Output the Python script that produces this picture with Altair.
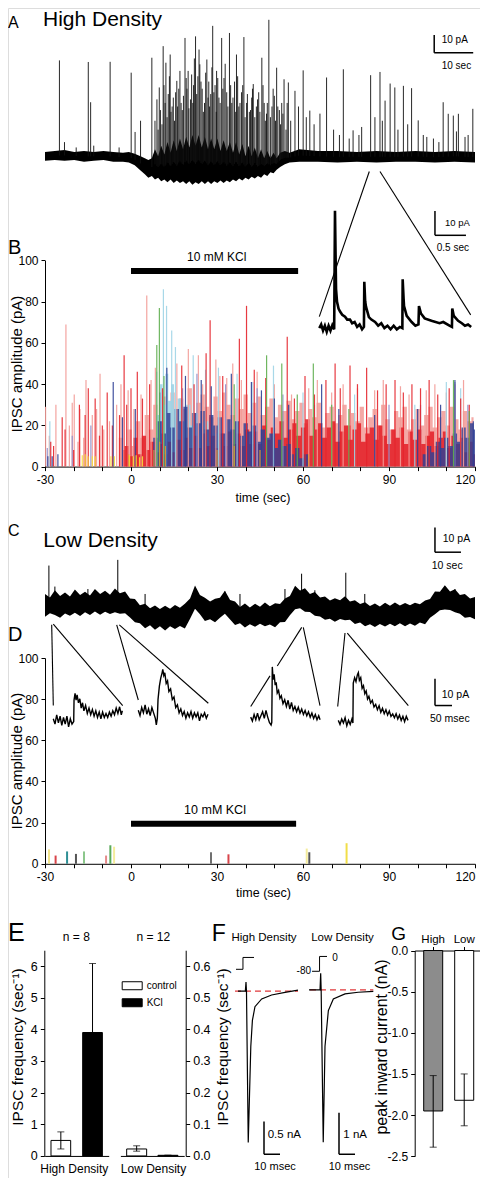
import altair as alt
import numpy as np
import pandas as pd

# ================= values =================
# --- A: high-density trace (time s, current pA): envelope (t, low, high) of the noisy trace
A_ENV = [(0,-2.5,2.5),(2.5,-2,3),(5,-2.5,3.5),(7.5,-2,2.5),(10,-3,3),(12.5,-2.5,2.5),(15,-2,3),
         (17.5,-3,2.5),(20,-3,2),(21.5,-3.5,2.5),(23,-5,1.5),(24.5,-8,0),(25.6,-10,-1),(26.5,-12,-2),
         (27.4,-11,-1),(28.2,-13,4),(29,-12,0),(29.8,-14,6),(30.6,-13,1),(31.4,-14.5,8),(32.2,-13,2),(33,-15,9),
         (33.8,-13.5,3),(34.6,-15,10),(35.4,-14,4),(36.2,-15.5,11),(37,-14,5),(37.8,-16,12),(38.6,-14.5,6),
         (39.4,-15.5,12),(40.2,-14,5),(41,-15.5,11),(41.8,-14,4),(42.6,-15.5,10),(43.4,-14,4),(44.2,-15,10),
         (45,-13.5,3),(45.8,-15,9),(46.6,-13.5,3),(47.4,-14.5,8),(48.2,-13,2),(49,-14,8),(49.8,-12.5,1),
         (50.6,-13.5,7),(51.4,-12,0),(52.2,-13,6),(53,-11.5,0),(53.8,-12.5,5),(54.6,-11,-1),(55.4,-12,4),
         (56.2,-10,-1),(57,-11,3),(57.8,-9,-1),(58.6,-9.5,2),(59.4,-7.5,-1),(60.3,-6,2),(61.5,-4.5,3),
         (62.7,-3.5,2),(65.2,-3,4),(70,-3,3),(75,-3.5,3),(80,-3,2.5),(85,-3.5,3),(90,-3,2.5),(95,-3,3),
         (100,-3.5,2.5),(105,-3,3),(110.26,-3.5,2.5)]
# spikes (time s, peak pA)
A_SPIKES = [(3.7,53.9),(5,8),(8,5),(11.1,53),(11.7,30.4),(12.5,6),(16.7,53.1),(19,5),(22.1,47),(23.1,13.7),
            (24.5,20),(27.4,55.4),(29.3,38.7),(30.3,61.9),(30.8,30),(31,52.6),(31.6,35),(32.1,57.2),(32.6,28),
            (33.8,42.4),(34.3,38),(34.9,30),(35.9,66.5),(36.2,44),(36.7,48),(37.3,32),(38.1,40),(38.6,67.4),
            (39.2,45),(39.7,51.7),(40.3,38),(40.9,30),(41.5,54.4),(42,42),(42.5,35),(43,73.3),(43.6,40),(44,48),
            (44.6,33),(45.3,66.5),(45.9,44),(46.6,36),(47.3,69.3),(47.9,30),(48.6,42),(49.1,57.2),(49.7,28),
            (50.4,36),(51,67),(51.7,30),(52.4,25),(53,33),(53.4,40.6),(54.2,28),(54.8,36),(55.6,55.4),(56.2,30),
            (56.8,24),(57.4,76.7),(58.2,28),(58.8,34),(59.4,49.8),(60.1,26),(60.7,30),(61.3,43.3),(62.4,41.5),
            (63,20),(64.1,36.8),(65,28),(66.2,48.3),(67,22),(67.9,25.7),(69,18),(70.5,24),(72.2,44.3),(74,15),
            (75.5,12),(76.5,48.9),(78,10),(79,14.6),(80.5,12),(81.2,16.5),(83.5,45.6),(84.6,22),(85.9,47.4),
            (86.5,20),(87.2,31.3),(88.5,40.9),(89.7,38.7),(90.5,15),(91.9,39.6),(93,18),(94,38.3),(95.7,20.2),
            (97,12),(97.9,10.9),(99.6,10),(101,8),(102.1,30.4),(103.4,23.9),(104.7,22.9),(105.5,14),(106,23.9),
            (107.7,10.9),(108.5,12),(109.7,26.7)]
# smaller overlapping events in the dense KCl period (time s, peak pA)
A_DENSE = [(28.2,20),(28.7,32),(29,15),(29.6,26),(30,18),(30.5,40),(31.3,22),(31.9,45),(32.3,25),(32.9,33),
           (33.2,20),(33.5,36),(34,28),(34.6,48),(35.2,26),(35.5,34),(36.4,38),(36.9,27),(37.6,46),(37.9,30),
           (38.3,55),(38.9,35),(39.5,60),(40,42),(40.6,25),(41.2,47),(41.8,33),(42.2,28),(42.8,50),(43.3,36),
           (43.9,25),(44.3,44),(44.9,30),(45.6,38),(46.2,52),(46.9,28),(47.6,40),(48.2,33),(48.9,25),(49.4,45),
           (50,30),(50.7,40),(51.3,22),(51.9,35),(52.7,26),(53.2,38),(53.8,22),(54.5,32),(55.1,25),(55.9,40),
           (56.5,20),(57,30),(57.8,22),(58.5,38),(59.1,20),(59.7,28),(60.4,18),(61,24),(61.8,15),(62.1,30)]

# --- B inset: expanded high-density trace (time s, pA)
B_INSET = [(0,0),(0.03,1.5),(0.06,-1),(0.09,1),(0.12,-1.5),(0.15,1),(0.18,-1),(0.21,1.2),(0.24,-0.5),
           (0.253,48),(0.27,16),(0.286,10.8),(0.31,8),(0.335,6.8),(0.37,5.5),(0.415,4.7),(0.45,3.5),(0.495,3.5),
           (0.53,2),(0.57,2.5),(0.61,0.5),(0.65,1.5),(0.69,-0.5),(0.72,0.5),(0.726,19),(0.74,11),(0.753,8.8),
           (0.80,4.5),(0.84,3.5),(0.90,2.5),(0.95,1),(1.0,2),(1.05,0),(1.10,1),(1.15,-0.5),(1.20,1),(1.25,-0.5),
           (1.30,0.5),(1.34,0),(1.345,20),(1.36,12),(1.367,9),(1.41,5),(1.49,2.5),(1.55,1),(1.60,1.5),(1.608,9),
           (1.64,6),(1.70,4),(1.81,3),(1.94,2),(2.0,2.5),(2.1,1),(2.14,0.5),(2.145,8),(2.17,5),(2.24,3),
           (2.30,2),(2.35,1),(2.40,1.5),(2.45,0.5)]

# --- B: IPSC amplitude events (time s, amplitude pA), one list per recording colour
B_PINK = [(-29.8,29),(-28.5,15),(-26.2,30),(-22.7,69),(-21.5,20),(-20.5,31),(-19.8,35),(-18.5,12),(-17.8,28),
          (-16.5,14),(-15.7,42),(-13.5,25),(-12,28),(-10.8,45),(-9.5,18),(-7.5,22),(-5,30),(-3.5,40),(-1,37),
          (1,28),(3.5,35),(5.5,83),(7,42),(8.5,48),(16,50),(20,57),(23.5,54),(25,40),(29.6,52),(31,44),
          (33.4,43),(35.5,50),(38.5,42),(44,46),(50,40),(56,35),(62,38),(65,42),(70,36),(74,40),(79,38),
          (85,37),(88,42),(94,39),(97,35),(103,37),(106,40),(110,36),(113,40),(116,42)]
B_LBLUE = [(-28.3,22),(9,46),(11.3,86),(12.4,78),(14.2,66),(15.5,58),(21.7,54),(26,47),(30.5,48),(37,45),
           (42.5,41),(49.7,49),(60,36),(78,35),(99,30),(110,41),(115,38)]
B_LAV = [(-29.2,9),(-20.5,15),(-14,20),(18,38),(23,45),(33,40),(44,38),(53,35),(64,30),(90,30),(101,30),
         (113,41),(117.5,30)]
B_RED = [(-28,12),(-27,10),(-24,24),(-23,18),(-20,8),(-18,30),(-16,25),(-14.9,38),(-12.5,33),(-11,15),(-10,20),
         (-8.3,36),(-6.5,20),(-4,25),(-2.4,54),(-1.5,30),(0,38),(2.2,46),(4,33),(6.5,40),(11,38),(17.7,49),(22,40),
         (26.2,55),(27.6,71),(32,44),(37.8,62),(40.3,78),(43,47),(47,43),(54.5,63),(57,33),(60.7,44),(64,35),
         (68,42),(71.2,50),(73,38),(76.4,49),(79,40),(82.2,48),(86,37),(89,40),(92.1,42),(95,36),(98,40),
         (101,38),(104,42),(107,35),(111,38),(115,33),(118,30)]
B_NAVY = [(-29,5),(-27.5,5),(-25.5,6),(-6.2,41),(-3,24),(1.5,28),(10,36),(12.5,48),(19,44),(24.5,42),(28,39),
          (35,45),(42,41),(45.5,37),(50,33),(55,30),(66.5,40),(72.5,28),(85,25),(100,28),(108,30),(113,42),
          (119.4,22)]
B_GREEN = [(9,59),(9.9,77),(11.5,44),(36,40),(47.3,54),(52.6,50),(58,35),(63.6,50),(70,30),(76,28),
           (112.5,42),(118,27)]
B_ORANGE = [(-0.8,6),(8,8),(10,12),(12,10),(30,8),(36,10),(45,8),(62,6)]
B_YELLOW = [(-17,5.5),(-16,6),(-15,5),(-13.5,5),(-12.5,5),(-7,5),(-5.8,5),(-0.5,5.5),(0.8,5),(1.8,5.5),
            (3,4.5),(4,5)]
# dense parts of the histogram (time s, upper edge pA)
B_PINK_MASS = [(-5,0),(-3.5,14),(-2,8),(-0.5,18),(1,10),(2.5,22),(4,14),(5.5,25),(7,18),(8.5,30),(10,22),
               (11.5,34),(13,26),(14.5,36),(16,24),(17.5,33),(19,28),(20.5,38),(22,26),(23.5,31),(25,35),
               (26.5,29),(28,24),(29.5,34),(31,27),(32.5,36),(34,30),(35.5,25),(37,33),(38.5,28),(40,35),
               (41.5,26),(43,31),(44.5,34),(46,25),(47.5,29),(49,33),(50.5,24),(52,30),(53.5,27),(55,32),
               (56.5,23),(58,27),(59.5,31),(61,21),(62.5,28),(64,24),(65.5,31),(67,19),(68.5,26),(70,29),
               (71.5,21),(73,25),(74.5,30),(76,20),(77.5,26),(79,22),(80.5,29),(82,19),(83.5,24),(85,28),
               (86.5,20),(88,30),(89.5,23),(91,18),(92.5,27),(94,24),(95.5,29),(97,18),(98.5,23),(100,28),
               (101.5,20),(103,25),(104.5,29),(106,19),(107.5,24),(109,27),(110.5,20),(112,29),(113.5,23),
               (115,18),(116.5,27),(118,22),(119.5,24)]
B_LBLUE_MASS = [(8,0),(9.5,25),(10.5,40),(11.5,30),(12.5,45),(13.5,32),(14.5,40),(15.5,28),(17,33),(18.5,22),
                (20,30),(21.5,20),(23,26),(24.5,16),(26,22),(28,12),(30,16),(32,0)]
B_RED_MASS = [(-3,0),(-1.5,10),(0,5),(1.5,14),(3,6),(4.5,15),(6,8),(7.5,12),(9,7),(10.5,11),(12,6),(13.5,12),
              (15,7),(16.5,13),(18,8),(19.5,14),(21,9),(22.5,15),(24,9),(25.5,16),(27,10),(28.5,15),(30,9),
              (31.5,16),(33,10),(34.5,17),(36,11),(37.5,16),(39,10),(40.5,18),(42,11),(43.5,17),(45,11),
              (46.5,20),(48,13),(49.5,19),(51,16),(52.5,22),(54,14),(55.5,18),(57,21),(58.5,15),(60,19),
              (61.5,23),(63,15),(64.5,18),(66,21),(67.5,14),(69,19),(70.5,22),(72,12),(73.5,17),(75,20),
              (76.5,13),(78,18),(79.5,21),(81,12),(82.5,16),(84,19),(85.5,13),(87,20),(88.5,15),(90,11),
              (91.5,18),(93,14),(94.5,19),(96,11),(97.5,17),(99,13),(100.5,18),(102,11),(103.5,15),(105,17),
              (106.5,10),(108,14),(109.5,17),(111,9),(112.5,15),(114,11),(115.5,14),(117,7),(118.5,12),(120,6)]
B_NAVY_MASS = [(7,0),(8.5,14),(10,22),(11.5,16),(13,26),(14.5,19),(16,28),(17.5,22),(19,29),(20.5,19),(22,26),
               (23.5,21),(25,27),(26.5,18),(28,25),(29.5,20),(31,24),(32.5,16),(34,23),(35.5,18),(37,22),
               (38.5,15),(40,21),(41.5,17),(43,20),(44.5,12),(46,18),(47.5,14),(49,16),(50.5,9),(52,13),
               (53.5,10),(55,11),(56.5,6),(58,9),(59.5,4),(61,6),(62.5,0)]
B_NAVY_MASS2 = [(101,0),(102.5,6),(104,10),(105.5,7),(107,12),(108.5,9),(110,14),(111.5,10),(113,16),
                (114.5,12),(116,19),(117.5,14),(119,21),(120,18)]
KCL_ON, KCL_OFF_B, KCL_OFF_D = 0, 58.3, 57.6
KCL_LEVEL_B, KCL_LEVEL_D = 94.9, 19.4

# --- C: low-density trace (time s) with upper / lower edge of the noise band (pA)
C_T = [0,1.9,3.8,5.8,7.7,9.6,11.5,13.5,15.4,17.3,19.2,21.2,23.1,25,26.9,28.8,30.8,32.7,34.6,36.5,38.5,40.4,
       42.3,44.2,46.2,48.1,50,51.9,53.8,55.8,57.7,59.6,61.5,63.5,65.4,67.3,69.2,71.2,73.1,75,76.9,78.8,80.8,
       82.7,84.6,86.5,88.5,90.4,92.3,94.2,96.2,98.1,100,101.9,103.8,105.8,107.7,109.6,111.5,113.5,115.4,
       117.3,119.2,121.2,123.1,125,126.9,128.8,130.8,132.7,134.6,136.5,138.5,140.4,142.3,144.2,146.2,148.1,
       150,151.9,153.8,155.8,157.7,159.6,161.5,163.5,165.4]
C_HI = [5.0,3.6,6.5,4.2,5.6,4.0,6.8,4.6,5.9,4.4,7.0,5.0,6.3,4.7,7.2,5.3,6.0,3.2,3.0,0.4,1.0,-0.8,0.3,-1.1,
        0.2,-1.0,0.5,-0.6,1.1,3.2,8.4,4.6,3.5,2.0,3.1,3.5,6.3,2.6,2.0,-0.3,1.2,-0.5,1.0,-0.2,1.6,0.0,1.3,0.9,
        3.2,4.2,8.3,6.4,7.3,5.0,5.8,3.6,4.0,2.4,3.3,2.5,4.1,2.0,2.5,0.9,1.7,0.1,1.2,-0.1,1.5,0.2,1.6,0.3,1.4,
        0.4,1.5,0.8,2.4,3.0,6.0,5.9,8.5,6.0,6.9,4.6,5.0,3.2,3.8]
C_LO = [-4.2,-2.8,-3.5,-4.6,-2.9,-3.8,-2.6,-3.9,-2.4,-3.5,-2.1,-3.4,-2.2,-3.1,-2.4,-3.0,-2.8,-4.5,-6.4,-6.8,
        -8.9,-7.6,-9.5,-8.0,-9.8,-8.1,-9.2,-7.9,-9.0,-5.0,-1.0,-3.2,-5.9,-5.2,-6.4,-4.6,-3.0,-5.3,-7.5,-6.8,
        -8.6,-7.2,-8.3,-7.0,-8.1,-7.3,-8.5,-6.4,-6.3,-3.6,-1.2,-0.8,-2.2,-2.3,-3.8,-4.1,-5.4,-5.0,-6.2,-5.1,
        -5.6,-5.4,-7.1,-6.5,-8.0,-7.2,-8.4,-7.1,-8.2,-7.0,-8.0,-6.8,-8.1,-6.9,-7.8,-6.5,-7.2,-4.6,-3.2,-1.6,
        -1.3,-1.5,-2.4,-3.0,-4.6,-4.3,-5.2]
C_SPIKES = [(1.5,16.5),(3.8,8),(16.5,7),(28,18.8),(38.5,5),(57.7,7),(69.2,6),(75,5),(92.3,7),(98.7,13.2),
            (103.8,6.5),(115.7,13.6),(123,5),(153.8,8),(157.7,7)]

# --- D: low-density IPSC events (time s, amplitude pA, recording)
D_T = [-28.6,-26.3,-22.3,-19.2,-16.4,-8.7,-7.2,-5.9,27.9,34,61.3,62.2,75.2]
D_A = [7,4,6,4.8,6,4,9,8.3,5.6,4.6,7.4,5.6,10]
D_C = ["c1","c2","c3","c4","c5","c6","c7","c8","c9","c2","c8","c4","c10"]
# D insets: expanded events (time ms, pA)
D_INS1 = [(0,0),(5,-2),(10,1.5),(15,-1.5),(20,1),(25,-2.5),(30,0.5),(35,-2),(40,1),(45,-3),(50,0),(55,-2),
          (60,-1),(61,7),(64,9.5),(67,7),(70,9),(74,6),(78,7.5),(82,4),(86,6),(90,3),(95,5),(100,2),(105,4),
          (110,1.5),(115,3.5),(120,1),(125,3),(130,0.5),(135,2.5),(140,0),(145,2.5),(150,0.5),(155,2),
          (160,0.5),(165,2.5),(170,1),(175,3),(180,1.5),(185,4),(190,2),(195,4.5),(200,1.5),(203,3)]
D_INS2 = [(0,0),(5,-2),(10,1),(15,-1),(20,2),(25,-1.5),(30,0.5),(35,-2),(40,1),(45,-1),(50,-3),(53,-5.5),
          (56,-3),(58,4),(62,9),(66,12),(70,14),(72,15.3),(75,13),(78,14),(82,10),(86,11),(90,7),(95,8),
          (100,4),(105,5),(110,1),(115,2),(120,-1),(125,0.5),(130,-2),(135,-0.5),(140,-3),(145,-1),(150,-2.5),
          (155,-0.5),(160,-3),(165,-1),(170,-2.5),(175,-1),(180,-4),(185,-1.5),(190,-2.5),(195,-1),(200,-3),
          (205,-1.5)]
D_INS3 = [(0,0),(5,-1.5),(10,1),(15,-1),(20,1.5),(25,-1),(30,0.5),(35,2),(40,-0.5),(45,2.5),(50,0),(55,-2),
          (60,-3),(62,-2),(63.5,18.8),(66,14),(69,16),(72,12),(75,13),(78,9),(82,10),(86,7),(90,8),(95,5),
          (100,6.5),(105,4),(110,6.3),(115,3),(120,5.5),(125,2.5),(130,4),(135,2),(140,3.7),(145,1.5),
          (150,3),(155,1),(160,2.5),(165,0.5),(170,2),(175,0),(180,1.5),(185,-0.5),(190,1),(195,-1),
          (200,0.5),(204,-1)]
D_INS4 = [(0,0),(5,-1.5),(10,0.5),(15,-1),(20,1),(25,-2),(30,0),(35,-1.5),(40,0.5),(43,-1),(44,14),(48,16),
          (52,14.5),(56,17),(59,17.9),(62,15),(66,16),(70,12),(74,13),(78,10),(82,11),(86,8),(90,9),(95,6.5),
          (100,7.5),(105,5),(110,6),(115,4),(120,5.5),(125,3),(130,4.5),(135,2.5),(140,4),(145,2),(150,3.5),
          (155,1.5),(160,2.4),(165,1),(170,2.5),(175,0.5),(180,2),(185,0),(190,1.5),(195,-0.5),(200,1.5),
          (205,0)]

# --- E: IPSC frequency (sec^-1), mean with error range
E_COND = ["control", "KCl"]
E_HIGH, E_HIGH_LO, E_HIGH_HI = [0.49, 3.9], [0.22, 3.9], [0.76, 6.08]
E_LOW, E_LOW_LO, E_LOW_HI = [0.022, 0.002], [0.015, 0.002], [0.032, 0.002]

# --- F: evoked currents (time ms, current nA) and voltage step (mV)
F_HIGH = [(0,0),(4.6,0),(5.0,0.14),(5.3,0),(6.4,-2.32),(8.0,-0.85),(9.0,-0.45),(10.6,-0.24),(14.8,-0.12),
          (21.0,-0.06),(29.4,-0.02),(37.5,0.015)]
F_LOW = [(0,0),(6.9,0),(7.3,0.4),(7.6,0),(8.9,-3.67),(10,-1.36),(12.1,-0.5),(15.2,-0.22),(22.5,-0.10),
         (30.8,-0.06),(40.2,-0.04)]
F_STEP_HIGH = [(-1.25,-80),(3.1,-80),(3.1,0),(10,0)]
F_STEP_LOW = [(1.9,-80),(6.6,-80),(6.6,0),(11.25,0)]

# --- G: peak inward current (nA)
G_CELL = ["High", "Low"]
G_VAL, G_LO, G_HI = [-1.95, -1.82], [-2.39, -2.13], [-1.52, -1.50]

# ================= layout helpers =================
W, H = 472, 1170
def px(X): return X - 8
def pxl(X): return max(0, X - 8)
def pxg(X): return X - 16
def py(Y): return (Y - 3) * 0.989

FONT = "Liberation Sans"
ONE = pd.DataFrame({"k": [0]})

def sc(domain, r0, r1):
    return alt.Scale(domain=domain, range=[r0, r1], nice=False, zero=False)

def QX(f, s, axis=None): return alt.X(f, type="quantitative", scale=s, axis=axis)
def QY(f, s, axis=None): return alt.Y(f, type="quantitative", scale=s, axis=axis)

def ax(**kw):
    base = dict(grid=False, domainColor="black", tickColor="black", labelColor="black", titleColor="black",
                labelFont=FONT, labelFontSize=12, titleFont=FONT, titleFontWeight="normal", tickSize=4,
                labelFlush=False, labelOverlap=False, domainWidth=1, tickWidth=1)
    base.update(kw)
    return alt.Axis(**base)

def txt(s, X, Y, size, align="left", gx=px):
    return alt.Chart(ONE).mark_text(text=s, font=FONT, fontSize=size, align=align, baseline="alphabetic",
                                    color="black").encode(x=alt.value(gx(X)), y=alt.value(py(Y)))

def seg(X1, Y1, X2, Y2, w=1.1):
    return alt.Chart(ONE).mark_rule(color="black", strokeWidth=w).encode(
        x=alt.value(px(X1)), y=alt.value(py(Y1)), x2=alt.value(px(X2)), y2=alt.value(py(Y2)))

def sbar(xs, ys, t, p, dt, dp, w=1.5):
    d = pd.DataFrame({"t0": [t, t], "t1": [t, t + dt], "p0": [p, p], "p1": [p + dp, p]})
    return alt.Chart(d).mark_rule(color="black", strokeWidth=w).encode(
        x=QX("t0", xs), x2="t1", y=QY("p0", ys), y2="p1")

def pairs(lst, a="t", b="v"):
    return pd.DataFrame(lst, columns=[a, b])

L = []

# ================= Panel A =================
xA = sc([0, 110.26], px(45), px(475))
yA = sc([-20, 80], py(189), py(9))
dA = pd.DataFrame(A_ENV, columns=["t", "lo", "hi"])
dAs = pairs(A_SPIKES + A_DENSE, "t", "top")
dAs["base"] = np.interp(dAs["t"], dA["t"], (dA["lo"] + dA["hi"]) / 2)
L += [seg(369.3, 168.3, 319.3, 315), seg(380, 168.3, 470.7, 313.3)]
L.append(alt.Chart(dA).mark_area(color="black").encode(x=QX("t", xA), y=QY("hi", yA), y2="lo"))
L.append(alt.Chart(dAs).mark_rule(color="#111111", strokeWidth=1, opacity=0.9).encode(
    x=QX("t", xA), y=QY("top", yA), y2="base"))
L.append(sbar(xA, yA, 99.8, 58.2, 10, 10))
L += [txt("A", 3, 23.3, 16, gx=pxl), txt("High Density", 43, 21, 21),
      txt("10 pA", 441.7, 38.3, 10), txt("10 sec", 441.7, 64.5, 10)]

# ================= Panel B =================
xB = sc([-30, 120], px(45), px(475))
yB = sc([0, 100], py(466.7), py(258.3))
B_NAMES = ["pink", "lblue", "lav", "red", "navy", "green", "orange", "yellow"]
B_COLORS = ["#f29a96", "#9fd4e6", "#8e8ecb", "#e4252c", "#2e3f95", "#5fae4f", "#d99a35", "#f5dd3a"]
rows = []
for nm, lst in zip(B_NAMES, [B_PINK, B_LBLUE, B_LAV, B_RED, B_NAVY, B_GREEN, B_ORANGE, B_YELLOW]):
    for t, a in lst:
        rows.append({"t": t, "a": a, "c": nm})
dB = pd.DataFrame(rows)
LAST_RIGHT = {"condition": {"test": "datum.value === 120", "value": "right"}, "value": "center"}
axBx = ax(orient="bottom", offset=py(466.7) - H, values=list(range(-30, 121, 10)),
          labelExpr="datum.value % 30 === 0 ? '' + datum.value : ''", labelPadding=4, labelAlign=LAST_RIGHT,
          title="time (sec)", titleFontSize=12.5, titleX=px(262.5), titleY=py(502) - py(466.7),
          titleBaseline="alphabetic", titleAlign="center")
axBy = ax(orient="left", offset=-px(45), values=[0, 20, 40, 60, 80, 100], labelPadding=3,
          title="IPSC amplitude (pA)", titleFontSize=15, titleX=16.5 - 45, titleY=py(362.5), titleAngle=270,
          titleBaseline="middle", titleAlign="center")

def mass(lst, color, op):
    return alt.Chart(pairs(lst, "t", "a")).mark_area(color=color, opacity=op, interpolate="step").encode(
        x=QX("t", xB), y=QY("a", yB), y2=alt.datum(0))

L += [mass(B_PINK_MASS, "#f29a96", 0.85), mass(B_LBLUE_MASS, "#9fd4e6", 0.9),
      mass(B_RED_MASS, "#e4252c", 0.9), mass(B_NAVY_MASS, "#2e3f95", 0.82), mass(B_NAVY_MASS2, "#2e3f95", 0.82)]
L.append(alt.Chart(dB).mark_rule(strokeWidth=1.2, opacity=0.9).encode(
    x=QX("t", xB, axBx), y=QY("a", yB, axBy), y2=alt.datum(0),
    color=alt.Color("c:N", scale=alt.Scale(domain=B_NAMES, range=B_COLORS), legend=None)))
L.append(alt.Chart(pd.DataFrame({"t0": [KCL_ON], "t1": [KCL_OFF_B], "a": [KCL_LEVEL_B]})).mark_rule(
    color="black", strokeWidth=6).encode(x=QX("t0", xB), x2="t1", y=QY("a", yB)))
L += [txt("B", 0, 251.5, 20, gx=pxl), txt("10 mM KCl", 216.7, 259.3, 12, align="center")]

# B inset
xI = sc([0, 2.47], px(319.3), px(472.4))
yI = sc([-5, 50], py(339.05), py(203.2))
L.append(alt.Chart(pairs(B_INSET)).mark_line(color="black", strokeWidth=2.6).encode(x=QX("t", xI), y=QY("v", yI)))
L.append(sbar(xI, yI, 1.866, 38, 0.5, 10))
L += [txt("10 pA", 445, 223, 9.5), txt("0.5 sec", 436.7, 249, 10)]

# ================= Panel C =================
xC = sc([0, 165.4], px(45), px(475))
yC = sc([-15, 35], py(645.5), py(520.5))
dC = pd.DataFrame({"t": C_T, "hi": C_HI, "lo": C_LO})
dCs = pairs(C_SPIKES, "t", "top")
dCs["base"] = np.interp(dCs["t"], dC["t"], (dC["lo"] + dC["hi"]) / 2)
L += [seg(51.7, 626.7, 53.3, 708.3), seg(53.3, 626, 122.7, 708.3),
      seg(116.7, 626.7, 138.3, 702.7), seg(119.3, 626.7, 208.3, 706),
      seg(301.7, 629.3, 277.3, 668.3), seg(270, 678.3, 250.7, 709.3), seg(303.3, 629.3, 320, 708.3),
      seg(345, 635, 337.7, 709.3), seg(347.3, 635, 408.3, 708.3)]
L.append(alt.Chart(dC).mark_area(color="black").encode(x=QX("t", xC), y=QY("hi", yC), y2="lo"))
L.append(alt.Chart(dCs).mark_rule(color="black", strokeWidth=1).encode(x=QX("t", xC), y=QY("top", yC), y2="base"))
L.append(sbar(xC, yC, 150, 21.9, 10, 10))
L += [txt("C", 1, 536.7, 16, gx=pxl), txt("Low Density", 43.3, 548, 21),
      txt("10 pA", 442.7, 543, 10.5), txt("10 sec", 431.7, 570, 10.5)]

# ================= Panel D =================
xD = sc([-30, 120], px(45), px(475))
yD = sc([0, 100], py(868.3), py(660.3))
D_NAMES = ["c1", "c2", "c3", "c4", "c5", "c6", "c7", "c8", "c9", "c10"]
D_COLORS = ["#f1e48c", "#d8444a", "#2e8f95", "#555555", "#8cc78c", "#e58a8a", "#5aaa5a", "#f4ec9c",
            "#707070", "#f1de48"]
dD = pd.DataFrame({"t": D_T, "a": D_A, "c": D_C})
axDx = ax(orient="bottom", offset=py(868.3) - H, values=list(range(-30, 121, 10)),
          labelExpr="datum.value % 30 === 0 ? '' + datum.value : ''", labelPadding=4, labelAlign=LAST_RIGHT,
          title="time (sec)", titleFontSize=12.5, titleX=px(263), titleY=py(901) - py(868.3),
          titleBaseline="alphabetic", titleAlign="center")
axDy = ax(orient="left", offset=-px(45), values=[0, 20, 40, 60, 80, 100], labelPadding=3,
          title="IPSC amplitude (pA)", titleFontSize=15, titleX=16.5 - 45, titleY=py(764), titleAngle=270,
          titleBaseline="middle", titleAlign="center")
L.append(alt.Chart(dD).mark_rule(strokeWidth=2).encode(
    x=QX("t", xD, axDx), y=QY("a", yD, axDy), y2=alt.datum(0),
    color=alt.Color("c:N", scale=alt.Scale(domain=D_NAMES, range=D_COLORS), legend=None)))
L.append(alt.Chart(pd.DataFrame({"t0": [KCL_ON], "t1": [KCL_OFF_D], "a": [KCL_LEVEL_D]})).mark_rule(
    color="black", strokeWidth=6).encode(x=QX("t0", xD), x2="t1", y=QY("a", yD)))
L += [txt("D", 0, 642.7, 20, gx=pxl), txt("10 mM KCl", 215, 818, 12.5, align="center")]

# D insets (left x, baseline y in the figure)
INSET_POS = [(53.3, 721.7), (138.3, 713), (250.7, 720), (338.3, 723.3)]
for i, (lst, (x0, b0)) in enumerate(zip([D_INS1, D_INS2, D_INS3, D_INS4], INSET_POS)):
    tmax = lst[-1][0]
    xs = sc([0, tmax], px(x0), px(x0 + tmax * 0.34))
    ys = sc([-10, 20], py(b0 + 27), py(b0 - 54))
    L.append(alt.Chart(pairs(lst)).mark_line(color="black", strokeWidth=1.4).encode(x=QX("t", xs), y=QY("v", ys)))
    if i == 3:
        L.append(sbar(xs, ys, 284.4, 5.56, 50, 10))
L += [txt("10 pA", 441.7, 701, 10.5), txt("50 msec", 430, 725, 10.5)]

# ================= Panel E =================
yEh = sc([0, 6.5], py(1163.7), py(955.7))
yEl = sc([0, 0.65], py(1163.7), py(955.7))
xEh = alt.Scale(domain=E_COND, range=[px(44.66), px(108.7)], paddingInner=0.379, paddingOuter=0.2)
xEl = alt.Scale(domain=E_COND, range=[px(120.4), px(184.2)], paddingInner=0.361, paddingOuter=0.2)
legE = alt.Legend(orient="none", legendX=px(121.7), legendY=py(981), title=None,
                  symbolType="M-1,-0.4L1,-0.4L1,0.4L-1,0.4Z", symbolSize=400, symbolStrokeColor="black",
                  symbolStrokeWidth=1, symbolOpacity=1, labelFont=FONT, labelFontSize=10,
                  labelColor="black", rowPadding=0, padding=0, labelOffset=4, symbolOffset=0)

def ebars(vals, lo, hi, xs, ys, axx, axy, legend):
    d = pd.DataFrame({"cond": E_COND, "v": vals, "lo": lo, "hi": hi})
    return [
        alt.Chart(d).mark_bar(stroke="black", strokeWidth=1).encode(
            x=alt.X("cond:N", scale=xs, axis=axx, sort=None), y=QY("v", ys, axy), y2=alt.datum(0),
            color=alt.Color("cond:N", scale=alt.Scale(domain=E_COND, range=["white", "black"]), legend=legend)),
        alt.Chart(d).mark_rule(color="black", strokeWidth=1).encode(
            x=alt.X("cond:N", scale=xs, axis=None, sort=None), y=QY("lo", ys), y2="hi"),
        alt.Chart(d).mark_tick(color="black", size=7, thickness=1, orient="horizontal").encode(
            x=alt.X("cond:N", scale=xs, axis=None, sort=None), y=QY("hi", ys)),
        alt.Chart(d).mark_tick(color="black", size=7, thickness=1, orient="horizontal").encode(
            x=alt.X("cond:N", scale=xs, axis=None, sort=None), y=QY("lo", ys)),
    ]

axEhx = ax(orient="bottom", offset=py(1163.7) - H, ticks=False, labels=False, title="High Density",
           titleFontSize=12, titleX=px(73.8), titleY=py(1180) - py(1163.7),
           titleBaseline="alphabetic", titleAlign="center")
axEhy = ax(orient="left", offset=-px(44.3), values=[0, 1, 2, 3, 4, 5, 6], labelPadding=3, labelFontSize=12.5,
           title="IPSC frequency (sec⁻¹)", titleFontSize=15.5, titleX=17 - 44.3, titleY=py(1053),
           titleAngle=270, titleBaseline="middle", titleAlign="center")
axElx = ax(orient="bottom", offset=py(1163.7) - H, ticks=False, labels=False, title="Low Density",
           titleFontSize=12, titleX=px(153), titleY=py(1180) - py(1163.7),
           titleBaseline="alphabetic", titleAlign="center")
axEly = ax(orient="right", offset=px(185.7) - W, values=[0, 0.1, 0.2, 0.3, 0.4, 0.5, 0.6], format=".1f",
           labelPadding=3, labelFontSize=12.5, title="IPSC frequency (sec⁻¹)", titleFontSize=15.5,
           titleX=222 - 185.7, titleY=py(1053), titleAngle=270, titleBaseline="middle", titleAlign="center")
L += ebars(E_HIGH, E_HIGH_LO, E_HIGH_HI, xEh, yEh, axEhx, axEhy, legE)
L += ebars(E_LOW, E_LOW_LO, E_LOW_HI, xEl, yEl, axElx, axEly, None)
L += [txt("E", 0, 946.7, 25, gx=pxl), txt("n = 8", 76.3, 946, 12, align="center"),
      txt("n = 12", 153.3, 946, 12, align="center")]

# ================= Panel F =================
xFh = sc([0, 40], px(238), px(302))
yFh = sc([-2.5, 0.5], py(1162), py(964))
vFh = sc([-80, 0], py(975), py(963))
xFl = sc([0, 40], px(309), px(373))
yFl = sc([-4, 1], py(1163.7), py(953.7))
vFl = sc([-80, 0], py(977), py(962))

def dashed(xs, ys, t0, t1):
    return alt.Chart(pd.DataFrame({"t0": [t0], "t1": [t1], "v": [0]})).mark_rule(
        color="#e0383a", strokeWidth=1.3, strokeDash=[6, 4]).encode(x=QX("t0", xs), x2="t1", y=QY("v", ys))

L.append(dashed(xFh, yFh, -1.9, 37.5))
L.append(alt.Chart(pairs(F_HIGH)).mark_line(color="black", strokeWidth=1.2).encode(x=QX("t", xFh), y=QY("v", yFh)))
L.append(sbar(xFh, yFh, 16.25, -2.5, 10, 0.5))
L.append(alt.Chart(pairs(F_STEP_HIGH)).mark_line(color="black", strokeWidth=1).encode(x=QX("t", xFh), y=QY("v", vFh)))
L.append(dashed(xFl, yFl, 0.6, 40.2))
L.append(alt.Chart(pairs(F_LOW)).mark_line(color="black", strokeWidth=1.2).encode(x=QX("t", xFl), y=QY("v", yFl)))
L.append(sbar(xFl, yFl, 18.75, -3.96, 10, 1.0))
L.append(alt.Chart(pairs(F_STEP_LOW)).mark_line(color="black", strokeWidth=1).encode(x=QX("t", xFl), y=QY("v", vFl)))
L += [txt("F", 211.7, 946.7, 23), txt("High Density", 264, 946, 11.5, align="center"),
      txt("Low Density", 342.5, 946, 11.5, align="center"), txt("-80", 311, 980, 10, align="right"),
      txt("0", 332.3, 967, 10), txt("0.5 nA", 267.7, 1146, 11.5), txt("1 nA", 343.3, 1146, 11.5),
      txt("10 msec", 275, 1178, 11, align="center"), txt("10 msec", 349.5, 1178, 11, align="center")]

# ================= Panel G =================
xG = alt.Scale(domain=G_CELL, range=[pxg(422.7), pxg(490.7)], paddingInner=0.387, paddingOuter=0.29)
yG = sc([-2.5, 0], py(1164), py(956))
dG = pd.DataFrame({"cell": G_CELL, "v": G_VAL, "lo": G_LO, "hi": G_HI})
axGx = ax(orient="top", offset=-py(956), labelPadding=2, title=None, labelAngle=0, labelFontSize=11.5)
axGy = ax(orient="left", offset=-pxg(422.7), values=[-2.5, -2.0, -1.5, -1.0, -0.5, 0.0], labelPadding=3,
          labelFontSize=12, labelExpr="(datum.value < 0 ? '-' : '') + format(abs(datum.value), '.1f')",
          title="peak inward current (nA)", titleFontSize=16, titleX=389.7 - 422.7, titleY=py(1053),
          titleAngle=270, titleBaseline="middle", titleAlign="center")
L.append(alt.Chart(dG).mark_bar(stroke="black", strokeWidth=1).encode(
    x=alt.X("cell:N", scale=xG, axis=axGx, sort=None), y=QY("v", yG, axGy), y2=alt.datum(0),
    color=alt.Color("cell:N", scale=alt.Scale(domain=G_CELL, range=["#8c8c8c", "white"]), legend=None)))
L.append(alt.Chart(dG).mark_rule(color="black", strokeWidth=1).encode(
    x=alt.X("cell:N", scale=xG, axis=None, sort=None), y=QY("lo", yG), y2="hi"))
L.append(alt.Chart(dG).mark_tick(color="black", size=7, thickness=1, orient="horizontal").encode(
    x=alt.X("cell:N", scale=xG, axis=None, sort=None), y=QY("lo", yG)))
L.append(alt.Chart(dG).mark_tick(color="black", size=7, thickness=1, orient="horizontal").encode(
    x=alt.X("cell:N", scale=xG, axis=None, sort=None), y=QY("hi", yG)))
L += [txt("G", 399.3, 945.7, 19, gx=pxg)]

chart = alt.layer(*L).resolve_scale(
    x="independent", y="independent", color="independent"
).properties(
    width=W, height=H, padding=0, autosize=alt.AutoSizeParams(type="none")
).configure_view(stroke=None).configure(font=FONT)

chart.save("out.html", embed_options={"renderer": "svg", "actions": False})
